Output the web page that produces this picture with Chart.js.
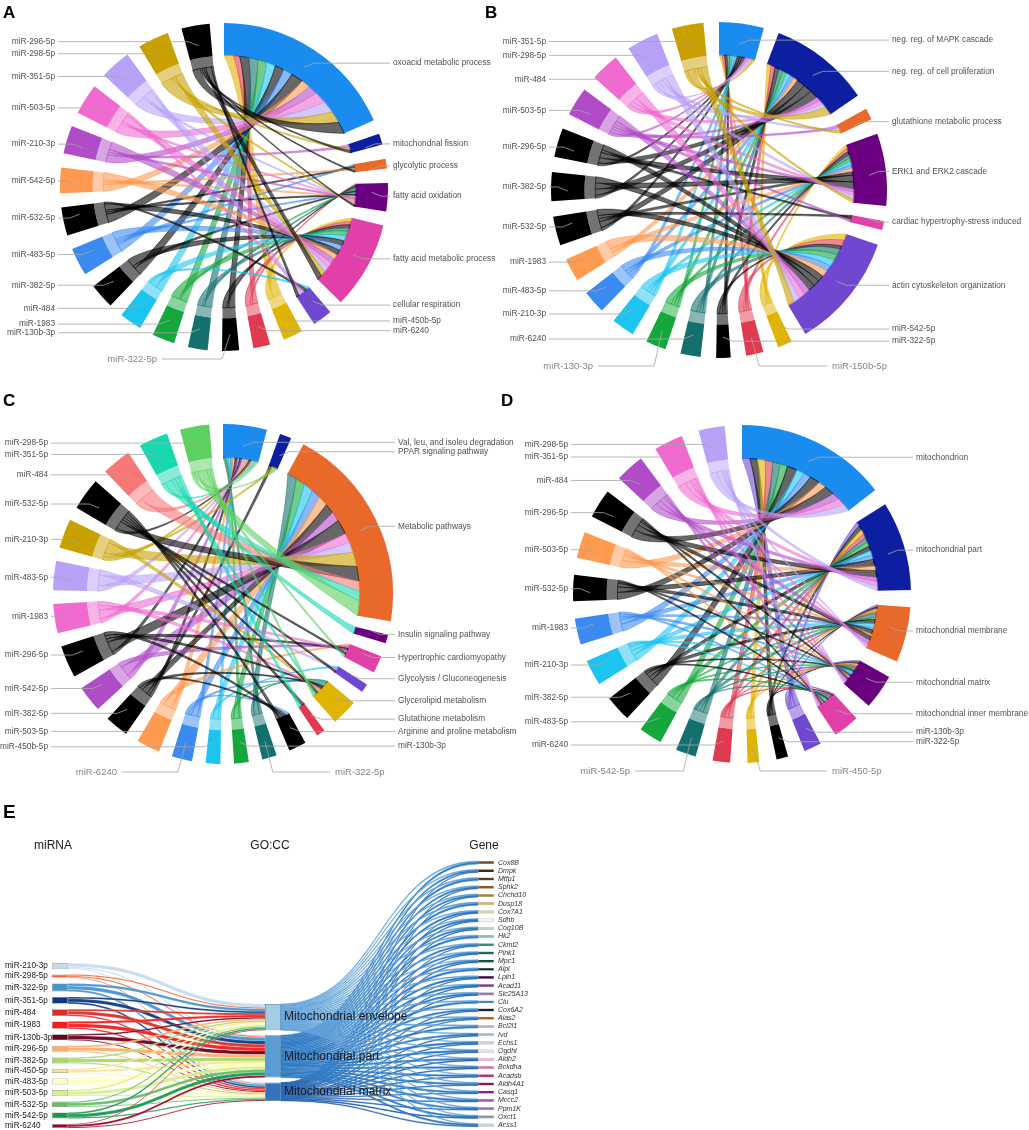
<!DOCTYPE html>
<html>
<head>
<meta charset="utf-8">
<title>miRNA enrichment chord and Sankey diagrams</title>
<script src="https://cdn.jsdelivr.net/npm/chart.js@4.4.1/dist/chart.umd.min.js"></script>
<style>
  html, body { margin: 0; padding: 0; background: #fff; }
  #page { position: relative; width: 1029px; height: 1130px; overflow: hidden; }
  #page canvas { position: absolute; left: 0; top: 0; }
  .tag { position: absolute; font: bold 17px "Liberation Sans", Arial, sans-serif; color: #000; line-height: 1; }
</style>
</head>
<body>
<div id="page">
  <canvas id="chartA" width="1029" height="1130"></canvas>
  <canvas id="chartB" width="1029" height="1130"></canvas>
  <canvas id="chartC" width="1029" height="1130"></canvas>
  <canvas id="chartD" width="1029" height="1130"></canvas>
  <canvas id="chartE" width="1029" height="1130"></canvas>
  <div class="tag" style="left:3px;top:4px">A</div>
  <div class="tag" style="left:485px;top:4px">B</div>
  <div class="tag" style="left:3px;top:392px">C</div>
  <div class="tag" style="left:501px;top:392px">D</div>
  <div class="tag" style="left:3px;top:802px;font-size:19px">E</div>
</div>
<script>
// ---------- A : GO biological process ----------
const termsA = ['oxoacid metabolic process', 'mitochondrial fission', 'glycolytic process',
  'fatty acid oxidation', 'fatty acid metabolic process', 'cellular respiration'];
const termValA = [66, 4, 3.5, 10, 31, 7];
const mirsA = ['miR-450b-5p', 'miR-6240', 'miR-322-5p', 'miR-130b-3p', 'miR-1983', 'miR-484',
  'miR-382-5p', 'miR-483-5p', 'miR-532-5p', 'miR-542-5p', 'miR-210-3p', 'miR-503-5p',
  'miR-351-5p', 'miR-298-5p', 'miR-296-5p'];
const mirValA = [7, 6, 6, 7, 8, 8, 9, 10, 10, 9, 10, 11, 11, 11, 10];
// rows follow mirsA, columns follow termsA
const linksA = [
  [3, 0, 0, 0, 2, 0], [2, 0, 0, 1, 2, 0], [3, 0, 0, 1, 2, 0], [3, 0, 0, 1, 2, 0],
  [3, 0, 0, 1, 3, 0], [3, 0, 0, 0, 3, 1], [3, 0, 0, 1, 3, 0], [3, 0, 1, 1, 3, 0],
  [4, 0, 1, 1, 3, 1], [3, 0, 1, 1, 3, 0], [3, 1, 0, 1, 3, 0], [4, 0, 0, 1, 3, 1],
  [4, 0, 0, 1, 3, 1], [4, 1, 0, 1, 3, 0], [4, 1, 1, 1, 3, 1]
];

// ---------- B : signalling terms ----------
const termsB = ['neg. reg. of MAPK cascade', 'neg. reg. of cell proliferation', 'glutathione metabolic process',
  'ERK1 and ERK2 cascade', 'cardiac hypertrophy-stress induced', 'actin cytoskeleton organization'];
const termValB = [15.5, 35, 4, 25, 3, 40];
const mirsB = ['miR-542-5p', 'miR-150b-5p', 'miR-322-5p', 'miR-6240', 'miR-130-3p', 'miR-210-3p',
  'miR-483-5p', 'miR-1983', 'miR-532-5p', 'miR-382-5p', 'miR-296-5p', 'miR-503-5p',
  'miR-484', 'miR-298-5p', 'miR-351-5p'];
const mirValB = [5, 6, 5, 7, 7, 8, 8, 8, 10, 10, 10, 10, 10, 11, 11];
const linksB = [
  [1, 1, 0, 1, 0, 2], [1, 1, 0, 1, 0, 2], [1, 1, 0, 1, 0, 1], [1, 1, 0, 1, 0, 2],
  [1, 1, 0, 1, 0, 2], [1, 1, 0, 1, 0, 2], [1, 1, 0, 1, 0, 2], [0, 1, 0, 1, 0, 2],
  [1, 2, 0, 1, 1, 2], [1, 2, 0, 2, 0, 2], [1, 2, 0, 2, 1, 2], [1, 1, 1, 1, 1, 2],
  [1, 1, 0, 1, 0, 2], [1, 1, 1, 1, 0, 2], [1, 2, 1, 1, 0, 2]
];

// ---------- C : KEGG pathways ----------
const termsC = ['Val, leu, and isoleu degradation', 'PPAR signaling pathway', 'Metabolic pathways',
  'Insulin signaling pathway', 'Hypertrophic cardiomyopathy', 'Glycolysis / Gluconeogenesis',
  'Glycerolipid metabolism', 'Glutathione metabolism', 'Arginine and proline metabolism'];
const termValC = [15, 4, 71, 3, 6, 3, 9, 3, 6];
const mirsC = ['miR-322-5p', 'miR-130b-3p', 'miR-450b-5p', 'miR-6240', 'miR-503-5p', 'miR-382-5p',
  'miR-542-5p', 'miR-296-5p', 'miR-1983', 'miR-483-5p', 'miR-210-3p', 'miR-532-5p',
  'miR-484', 'miR-351-5p', 'miR-298-5p'];
const mirValC = [5, 5, 5, 7, 8, 8, 9, 11, 10, 10, 10, 11, 10, 10, 10];
const linksC = [
  [1, 0, 2, 0, 0, 0, 1, 0, 0], [1, 0, 2, 0, 0, 0, 1, 0, 0], [1, 0, 2, 0, 0, 1, 0, 0, 0],
  [1, 0, 2, 0, 0, 0, 1, 0, 1], [1, 0, 2, 0, 1, 0, 0, 0, 0], [1, 1, 2, 0, 0, 0, 1, 0, 1],
  [1, 0, 2, 0, 1, 0, 0, 0, 0], [1, 0, 3, 0, 1, 0, 1, 0, 1], [1, 0, 2, 0, 1, 0, 1, 0, 0],
  [1, 0, 2, 0, 0, 1, 0, 0, 0], [1, 1, 3, 0, 0, 0, 1, 0, 0], [1, 0, 3, 0, 1, 1, 1, 1, 1],
  [1, 0, 2, 0, 0, 0, 0, 0, 0], [1, 0, 2, 1, 0, 0, 1, 1, 0], [1, 1, 3, 0, 1, 0, 1, 0, 0]
];

// ---------- D : GO cellular component ----------
const termsD = ['mitochondrion', 'mitochondrial part', 'mitochondrial membrane',
  'mitochondrial matrix', 'mitochondrial inner membrane'];
const termValD = [52, 30.7, 19, 12, 9];
const mirsD = ['miR-130b-3p', 'miR-322-5p', 'miR-450-5p', 'miR-6240', 'miR-542-5p', 'miR-483-5p',
  'miR-382-5p', 'miR-210-3p', 'miR-1983', 'miR-532-5p', 'miR-503-5p', 'miR-296-5p',
  'miR-484', 'miR-351-5p', 'miR-298-5p'];
const mirValD = [6, 4, 4, 6, 7, 8, 9, 9, 9, 9, 9, 10, 10, 10, 9];
const linksD = [
  [3, 2, 1, 1, 1], [3, 2, 1, 1, 1], [3, 2, 1, 1, 0], [3, 2, 1, 1, 1], [3, 2, 2, 1, 1],
  [3, 2, 1, 1, 1], [4, 2, 2, 1, 1], [3, 2, 2, 1, 1], [3, 2, 1, 1, 1], [4, 3, 2, 1, 1],
  [3, 2, 1, 1, 1], [4, 3, 2, 1, 1], [3, 2, 2, 1, 1], [3, 2, 1, 1, 1], [3, 2, 1, 1, 1]
];

// ---------- E : miRNA -> GO:CC -> gene ----------
const mirE = ['miR-210-3p', 'miR-298-5p', 'miR-322-5p', 'miR-351-5p', 'miR-484', 'miR-1983',
  'miR-130b-3p', 'miR-296-5p', 'miR-382-5p', 'miR-450-5p', 'miR-483-5p', 'miR-503-5p',
  'miR-532-5p', 'miR-542-5p', 'miR-6240'];
const goE = ['Mitochondrial envelope', 'Mitochondrial part', 'Mitochondrial matrix'];
const genesE = ['Cox8B', 'Dmpk', 'Mtfp1', 'Sphk2', 'Chchd10', 'Dusp18', 'Cox7A1', 'Sdhb', 'Coq10B',
  'Hk2', 'Ckmt2', 'Pink1', 'Mpc1', 'Alpl', 'Lpin1', 'Acad11', 'Slc25A13', 'Clu', 'Cox6A2',
  'Alas2', 'Bcl2l1', 'Ivd', 'Echs1', 'Ogdhl', 'Aldh2', 'Bckdha', 'Acadsb', 'Aldh4A1',
  'Casq1', 'Mccc2', 'Ppm1K', 'Oxct1', 'Acss1'];
// rows follow mirE, columns follow goE
const mirGoE = [
  [3.5, 1.2, 1.0], [1.3, 1.2, 0.8], [2.5, 3.5, 2.0], [1.8, 3.2, 1.7], [2.0, 3.2, 1.5],
  [2.2, 3.6, 1.5], [1.5, 3.5, 1.0], [1.6, 3.2, 1.2], [1.6, 3.2, 1.2], [1.2, 2.0, 0.8],
  [1.6, 3.2, 1.2], [1.6, 3.2, 1.2], [1.4, 2.8, 1.1], [1.6, 3.2, 1.2], [0.8, 2.2, 1.0]
];
// rows follow genesE, columns follow goE
const geneGoE = [
  [1.0, 1.4, 0], [0.8, 1.2, 0.4], [1.0, 1.4, 0], [0.8, 1.2, 0.4], [0.8, 1.2, 0.4],
  [1.0, 1.4, 0], [0.8, 1.2, 0.4], [0.6, 1.2, 0.6], [0.8, 1.2, 0.4], [1.0, 1.4, 0],
  [0.8, 1.2, 0.4], [0.8, 1.2, 0.4], [0.6, 1.2, 0.6], [0.8, 1.4, 0], [0.8, 1.2, 0.4],
  [0.6, 1.2, 0.6], [0.8, 1.2, 0.4], [0.8, 1.4, 0], [0.6, 1.2, 0.6], [0.8, 1.2, 0.4],
  [1.0, 1.4, 0], [0.6, 1.2, 0.6], [0.6, 1.2, 0.6], [0.6, 1.2, 0.6], [0.6, 1.2, 0.6],
  [0.6, 1.2, 0.6], [0.6, 1.2, 0.6], [0.6, 1.2, 0.6], [0.8, 1.2, 0.4], [0.6, 1.2, 0.6],
  [0.6, 1.2, 0.6], [0.6, 1.2, 0.6], [0.6, 1.2, 0.6]
];

// ---------- colours ----------
const BLUE = '#1a8cf0', NAVY = '#0d1fa0', ORANGE = '#e8692a', DPURPLE = '#6a0080', MAGENTA = '#e040a8',
  VIOLET = '#7048d0', YELLOW = '#e0b400', RED = '#e03a50', BLACK = '#000000', TEAL = '#14706e',
  GREEN = '#14a83c', CYAN = '#1ec4f0', MBLUE = '#3a8af0', LORANGE = '#ff9a50', PURPLE = '#b04cc8',
  PINK = '#f06ad0', LAVENDER = '#b8a2f8', OLIVE = '#c8a000', SALMON = '#f87878', TURQ = '#18d8b0',
  LGREEN = '#5cd060';
const termColA = [BLUE, NAVY, ORANGE, DPURPLE, MAGENTA, VIOLET];
const mirColA = [YELLOW, RED, BLACK, TEAL, GREEN, CYAN, BLACK, MBLUE, BLACK, LORANGE, PURPLE, PINK, LAVENDER, OLIVE, BLACK];
const termColB = [BLUE, NAVY, ORANGE, DPURPLE, MAGENTA, VIOLET];
const mirColB = [YELLOW, RED, BLACK, TEAL, GREEN, CYAN, MBLUE, LORANGE, BLACK, BLACK, BLACK, PURPLE, PINK, LAVENDER, OLIVE];
const termColC = [BLUE, NAVY, ORANGE, DPURPLE, MAGENTA, VIOLET, YELLOW, RED, BLACK];
const mirColC = [TEAL, GREEN, CYAN, MBLUE, LORANGE, BLACK, PURPLE, BLACK, PINK, LAVENDER, OLIVE, BLACK, SALMON, TURQ, LGREEN];
const termColD = [BLUE, NAVY, ORANGE, DPURPLE, MAGENTA];
const mirColD = [VIOLET, BLACK, YELLOW, RED, TEAL, GREEN, BLACK, CYAN, MBLUE, BLACK, LORANGE, BLACK, PURPLE, PINK, LAVENDER];

const mirColE = ['#c6dbef', '#ef6a3a', '#4a93cc', '#0e3a7e', '#d7302a', '#f41c1c', '#67001f', '#fdae6b',
  '#a6d96a', '#fee08b', '#ffffbf', '#d9ef8b', '#66bd63', '#1a9850', '#a50026'];
const goColE = ['#a3cde6', '#5a9dd2', '#3474ba'];
const flowColE = ['rgb(100,164,218)', 'rgb(48,124,196)', 'rgb(34,98,176)'];
const geneColE = ['#7a4a1e', '#3a2a14', '#5a3e1a', '#8a5a22', '#b0803e', '#d4b06a', '#d9d0b4', '#f4f4f4',
  '#c4cec6', '#7cc4b0', '#3a8e78', '#1e6a52', '#14503c', '#0c2e22', '#3a0a4e', '#7a3a8e', '#9c78b4',
  '#4a86b2', '#14223e', '#b0681e', '#c8aad8', '#a4bcd8', '#d4cce0', '#ecdcf0', '#f0b4d4', '#d876aa',
  '#c42a76', '#8e1452', '#7e2a84', '#9a5aa6', '#8a76b6', '#8896c4', '#c4d2e4'];

const FONT = '"Liberation Sans", Arial, sans-serif';
const W = 1029, H = 1130;
const NONE = 'rgba(0,0,0,0)';

function rgba(hex, a) {
  const n = parseInt(hex.slice(1), 16);
  return 'rgba(' + ((n >> 16) & 255) + ',' + ((n >> 8) & 255) + ',' + (n & 255) + ',' + a + ')';
}
const lerp = (p, q, t) => [p[0] + (q[0] - p[0]) * t, p[1] + (q[1] - p[1]) * t];

// ribbons + leader labels, drawn on top of the doughnut arcs
function chordPlugin(p, names) {
  return {
    id: 'chord',
    afterDatasetsDraw(chart) {
      const ctx = chart.ctx;
      const arcs = chart.getDatasetMeta(0).data;
      const sleeve = chart.getDatasetMeta(1).data;
      const el = i => arcs[2 * i];
      const nT = p.terms.length;
      const cx = el(0).x, cy = el(0).y;
      const rIn = el(0).innerRadius, rOut = el(0).outerRadius;
      const rS = sleeve[0].innerRadius + 0.5;   // miRNA ribbons leave from the inner edge of the pale sleeve
      const rT = rIn + 0.5;                      // term ribbons arrive at the inner edge of the term arc
      const tSum = p.terms.map((_, j) => p.links.reduce((s, row) => s + row[j], 0));
      const tCur = p.terms.map((_, j) => el(j).startAngle);
      const C = [cx, cy];
      const pt = (a, r) => [cx + r * Math.cos(a), cy + r * Math.sin(a)];
      // focal point of each term: big arcs gather their ribbons deeper inside the circle
      const focal = p.terms.map((_, j) => {
        const t = el(j);
        const span = (t.endAngle - t.startAngle) * 180 / Math.PI;
        const k = Math.max(0.5, 0.95 - span * 0.012);
        const ta = (t.startAngle + t.endAngle) / 2;
        return [cx + k * rIn * Math.cos(ta), cy + k * rIn * Math.sin(ta)];
      });

      ctx.save();
      p.links.forEach((row, i) => {
        const m = el(nT + i);
        const mSum = row.reduce((s, v) => s + v, 0);
        const mSpan = m.endAngle - m.startAngle;
        let mc = m.startAngle;
        row.forEach((w, j) => {
          if (!w) return;
          const t = el(j);
          const a0 = mc, a1 = mc + mSpan * w / mSum;
          mc = a1;
          const b0 = tCur[j], b1 = b0 + (t.endAngle - t.startAngle) * w / tSum[j];
          tCur[j] = b1;
          const f = focal[j];
          const s0 = pt(a0, rS), s1 = pt(a1, rS), q0 = pt(b0, rT), q1 = pt(b1, rT);
          const c0 = lerp(s1, C, 0.3), c1 = lerp(s0, C, 0.3);
          const f0 = lerp(f, q0, 0.2), f1 = lerp(f, q1, 0.2);
          ctx.beginPath();
          ctx.arc(cx, cy, rS, a0, a1);
          ctx.bezierCurveTo(c0[0], c0[1], f0[0], f0[1], q0[0], q0[1]);
          ctx.arc(cx, cy, rT, b0, b1);
          ctx.bezierCurveTo(f1[0], f1[1], c1[0], c1[1], s0[0], s0[1]);
          ctx.closePath();
          const col = p.mirCol[i];
          ctx.fillStyle = rgba(col, 0.6);
          ctx.fill();
          ctx.strokeStyle = rgba(col, 0.85);
          ctx.lineWidth = 0.5;
          ctx.stroke();
        });
      });

      // leader lines and labels
      ctx.textBaseline = 'middle';
      names.forEach((name, i) => {
        const e = el(i);
        const a = (e.startAngle + e.endAngle) / 2;
        const rm = (rIn + rOut) / 2;
        const bx = cx + rm * Math.cos(a), by = cy + rm * Math.sin(a);
        ctx.strokeStyle = '#a4a4a4';
        ctx.lineWidth = 0.8;
        ctx.beginPath();
        const isBL = p.botLeft && p.botLeft[0] === name;
        const isBR = p.botRight && p.botRight[0] === name;
        if (isBL || isBR) {
          const ly = cy + rOut + 8;
          const lx = isBL ? cx - p.botLeft[1] : cx + p.botRight[1];
          ctx.moveTo(isBL ? lx + 5 : lx - 5, ly);
          ctx.lineTo(isBL ? bx - 8 : bx + 8, ly);
          ctx.lineTo(bx, by);
          ctx.stroke();
          ctx.font = '9.5px ' + FONT;
          ctx.fillStyle = '#858585';
          ctx.textAlign = isBL ? 'right' : 'left';
          ctx.fillText(name, lx, ly);
        } else {
          const right = bx > cx;
          const lx = right ? cx + rOut + 5 : cx - rOut - 5;
          ctx.moveTo(right ? lx - 3 : lx + 3, by);
          ctx.lineTo(right ? bx + 10 : bx - 10, by);
          ctx.lineTo(bx, by + (by < cy ? 4 : -4));
          ctx.stroke();
          ctx.font = '8.3px ' + FONT;
          ctx.fillStyle = '#505050';
          ctx.textAlign = right ? 'left' : 'right';
          ctx.fillText(name, lx, by);
        }
      });
      ctx.restore();
    }
  };
}

function makeChord(p) {
  const names = p.terms.concat(p.mirs);
  const vals = p.termVal.concat(p.mirVal);
  const cols = p.termCol.concat(p.mirCol);
  const gap = (360 - vals.reduce((a, b) => a + b, 0)) / names.length;
  const labels = [], data = [], bg = [], pale = [];
  names.forEach((n, i) => {
    labels.push(n, '');
    data.push(vals[i], gap);
    bg.push(cols[i], NONE);
    pale.push(i < p.terms.length ? NONE : rgba(cols[i], cols[i] === BLACK ? 0.55 : 0.5), NONE);
  });
  const pad = p.r + 1;
  return new Chart(document.getElementById(p.id), {
    type: 'doughnut',
    data: {
      labels: labels,
      datasets: [
        { data: data, backgroundColor: bg, borderWidth: 0, weight: 3 },
        { data: data, backgroundColor: pale, borderWidth: 0, weight: 1 }
      ]
    },
    options: {
      responsive: false,
      animation: false,
      events: [],
      radius: p.r,
      cutout: '73.4%',
      layout: { padding: { left: p.cx - pad, right: W - p.cx - pad, top: p.cy - pad, bottom: H - p.cy - pad } },
      plugins: { legend: { display: false }, tooltip: { enabled: false } }
    },
    plugins: [chordPlugin(p, names)]
  });
}

makeChord({ id: 'chartA', cx: 224, cy: 187, r: 164, terms: termsA, termVal: termValA, termCol: termColA,
  mirs: mirsA, mirVal: mirValA, mirCol: mirColA, links: linksA, botLeft: ['miR-322-5p', 67] });
makeChord({ id: 'chartB', cx: 719, cy: 190, r: 168, terms: termsB, termVal: termValB, termCol: termColB,
  mirs: mirsB, mirVal: mirValB, mirCol: mirColB, links: linksB, botLeft: ['miR-130-3p', 126], botRight: ['miR-150b-5p', 113] });
makeChord({ id: 'chartC', cx: 223, cy: 594, r: 170, terms: termsC, termVal: termValC, termCol: termColC,
  mirs: mirsC, mirVal: mirValC, mirCol: mirColC, links: linksC, botLeft: ['miR-6240', 106], botRight: ['miR-322-5p', 112] });
makeChord({ id: 'chartD', cx: 742, cy: 594, r: 169, terms: termsD, termVal: termValD, termCol: termColD,
  mirs: mirsD, mirVal: mirValD, mirCol: mirColD, links: linksD, botLeft: ['miR-542-5p', 112], botRight: ['miR-450-5p', 90] });

// ---------- Sankey (panel E) ----------
// stack node heights down a column, starting at `top` with a fixed gap (y units = px below the panel top)
function stackNodes(sizes, top, gap, scale) {
  let y = top;
  return sizes.map(v => { const r = [y, y + v * scale]; y += v * scale + gap; return r; });
}
const GENE_PX = 1.3;
const mirSize = mirGoE.map(r => r.reduce((a, b) => a + b, 0));
const goSize = goE.map((_, j) => mirGoE.reduce((s, r) => s + r[j], 0));
const geneSize = geneGoE.map(r => r.reduce((a, b) => a + b, 0));
const mirNodes = stackNodes(mirSize, 113.3, 5.55, 1);
const goNodes = stackNodes(goSize, 154, 5, 1);
const geneNodes = stackNodes(geneSize, 11, 5.1, GENE_PX);

function band(ctx, y, x0, s0, s1, x1, t0, t1, fill, edge, lw) {
  const xm = (x0 + x1) / 2;
  const a0 = y.getPixelForValue(s0), a1 = y.getPixelForValue(s1);
  const b0 = y.getPixelForValue(t0), b1 = y.getPixelForValue(t1);
  ctx.beginPath();
  ctx.moveTo(x0, a0);
  ctx.bezierCurveTo(xm, a0, xm, b0, x1, b0);
  ctx.lineTo(x1, b1);
  ctx.bezierCurveTo(xm, b1, xm, a1, x0, a1);
  ctx.closePath();
  ctx.fillStyle = fill;
  ctx.fill();
  ctx.strokeStyle = edge;
  ctx.lineWidth = lw;
  ctx.stroke();
}

const sankeyPlugin = {
  id: 'sankey',
  beforeDatasetsDraw(chart) {
    const ctx = chart.ctx, x = chart.scales.x, y = chart.scales.y;
    const half = 8;
    const xMir = x.getPixelForValue(0) + half, xGoL = x.getPixelForValue(1) - half;
    const xGoR = x.getPixelForValue(1) + half, xGene = x.getPixelForValue(2) - half;
    ctx.save();
    const goOut = goNodes.map(n => n[0]);
    const goScale = goE.map((_, j) => (goNodes[j][1] - goNodes[j][0]) / geneGoE.reduce((s, r) => s + r[j], 0));
    geneGoE.forEach((row, g) => {
      let c = geneNodes[g][0];
      row.forEach((w, j) => {
        if (!w) return;
        const h = w * goScale[j];
        band(ctx, y, xGoR, goOut[j], goOut[j] + h, xGene, c, c + w * GENE_PX, flowColE[j], flowColE[j], 0.45);
        goOut[j] += h;
        c += w * GENE_PX;
      });
    });
    const goIn = goNodes.map(n => n[0]);
    mirGoE.forEach((row, i) => {
      let c = mirNodes[i][0];
      row.forEach((w, j) => {
        if (!w) return;
        band(ctx, y, xMir, c, c + w, xGoL, goIn[j], goIn[j] + w, rgba(mirColE[i], 0.95), 'rgba(255,255,255,0.6)', 0.3);
        c += w;
        goIn[j] += w;
      });
    });
    ctx.restore();
  },
  afterDatasetsDraw(chart) {
    const ctx = chart.ctx, x = chart.scales.x, y = chart.scales.y;
    const mid = r => y.getPixelForValue((r[0] + r[1]) / 2);
    ctx.save();
    ctx.textBaseline = 'middle';
    ctx.fillStyle = '#1a1a1a';
    ctx.font = '12px ' + FONT;
    ctx.textAlign = 'center';
    const top = chart.chartArea.top - 4;
    ctx.fillText('miRNA', x.getPixelForValue(0) - 7, top);
    ctx.fillText('GO:CC', x.getPixelForValue(1) - 3, top);
    ctx.fillText('Gene', x.getPixelForValue(2) - 2, top);
    ctx.textAlign = 'left';
    ctx.font = '8.2px ' + FONT;
    mirE.forEach((n, i) => ctx.fillText(n, x.getPixelForValue(0) - 55, mid(mirNodes[i])));
    ctx.font = '12px ' + FONT;
    goE.forEach((n, j) => ctx.fillText(n, x.getPixelForValue(1) + 11, mid(goNodes[j])));
    ctx.font = 'italic 7px ' + FONT;
    ctx.fillStyle = '#333';
    genesE.forEach((n, g) => ctx.fillText(n, x.getPixelForValue(2) + 12, mid(geneNodes[g])));
    ctx.restore();
  }
};

new Chart(document.getElementById('chartE'), {
  type: 'bar',
  data: {
    datasets: [
      { data: mirNodes.map(r => ({ x: 0, y: r })), backgroundColor: mirColE, borderColor: '#8a8a8a', borderWidth: 0.6 },
      { data: goNodes.map(r => ({ x: 1, y: r })), backgroundColor: goColE, borderColor: '#4d7eaa', borderWidth: 0.8 },
      { data: geneNodes.map(r => ({ x: 2, y: r })), backgroundColor: geneColE, borderColor: '#9a9a9a', borderWidth: 0.4 }
    ]
  },
  options: {
    responsive: false,
    animation: false,
    events: [],
    layout: { padding: { left: 60, right: W - 486, top: 850, bottom: 0 } },
    scales: {
      x: { type: 'linear', min: 0, max: 2, offset: false, display: false },
      y: { type: 'linear', min: 0, max: 280, reverse: true, display: false }
    },
    datasets: { bar: { grouped: false, maxBarThickness: 16, borderSkipped: false, clip: false } },
    plugins: { legend: { display: false }, tooltip: { enabled: false } }
  },
  plugins: [sankeyPlugin]
});
</script>
</body>
</html>
